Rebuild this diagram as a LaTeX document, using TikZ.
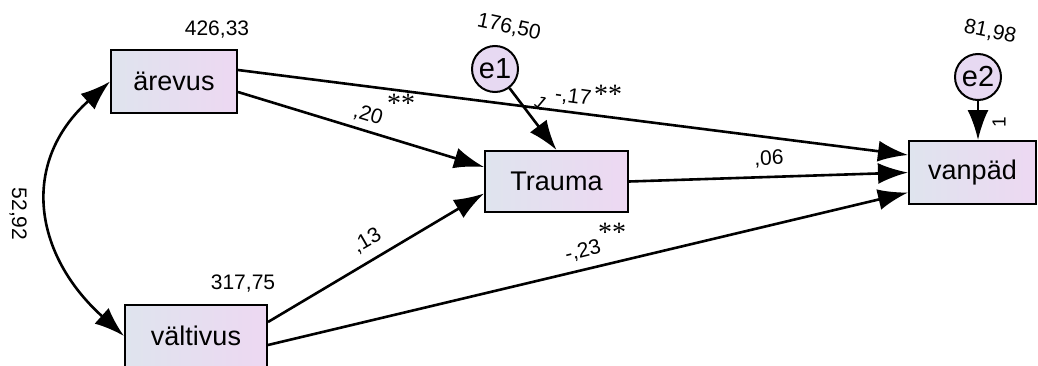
\documentclass[tikz,border=0pt]{standalone}
\usepackage{fontspec}
\setmainfont{Liberation Sans}
\newfontfamily\astfont{Liberation Serif}
\usetikzlibrary{arrows.meta,calc}
\definecolor{boxL}{HTML}{DFE4EE}
\definecolor{boxR}{HTML}{EDD8F2}
\definecolor{circ}{HTML}{E7D9F2}
\tikzset{
  varbox/.style={draw,line width=2pt,left color=boxL,right color=boxR,
    font=\fontsize{27}{32}\selectfont,inner sep=0pt},
  errc/.style={draw,circle,line width=2pt,fill=circ,minimum size=46pt,inner sep=0pt,
    font=\fontsize{29}{34}\selectfont},
  path/.style={line width=2.6pt,-{Latex[length=30pt,width=21pt]}},
  cov/.style={line width=2.6pt,{Latex[length=30pt,width=21pt]}-{Latex[length=30pt,width=21pt]}},
  vlab/.style={font=\fontsize{21}{24}\selectfont,inner sep=0pt},
  plab/.style={font=\fontsize{21}{24}\selectfont,inner sep=0pt},
  one/.style={font=\fontsize{19}{21}\selectfont,inner sep=0pt},
  ast/.style={font=\astfont\fontsize{28}{30}\selectfont,inner sep=0pt}
}
\begin{document}
\begin{tikzpicture}[x=1pt,y=1pt]
\clip (0,0) rectangle (1038,365);
\fill[white] (0,0) rectangle (1038,365);
% nodes
\node[varbox,minimum width=126pt,minimum height=63pt] (ar) at (174,283.5) {ärevus};
\node[varbox,minimum width=143pt,minimum height=61pt] (tr) at (556.5,183.5) {Trauma};
\node[varbox,minimum width=127pt,minimum height=63pt] (van) at (972.5,192.5) {vanpäd};
\node[varbox,minimum width=142pt,minimum height=63pt] (vt) at (196,29) {vältivus};
\node[errc] (e1) at (495,296) {e1};
\node[errc] (e2) at (978,288) {e2};
% variance labels
\node[vlab] (l1) at (217,335) {426,33};
\node[vlab] (l2) at (243,81) {317,75};
\node[vlab,rotate=-12] (l3) at (509,338) {176,50};
\node[vlab,rotate=-12] (l4) at (990,333) {81,98};
\node[vlab,rotate=-90] (l5) at (18,151) {52,92};
% connectors
\draw[path] ($(ar.east)+(0,11.5)$) -- ($(van.west)+(0,17.5)$);
\draw[path] ($(ar.east)+(0,-10.5)$) -- ($(tr.west)+(0,14.5)$);
\draw[path] (tr.east) -- (van.west);
\draw[path] ($(vt.east)+(0,14)$) -- ($(tr.west)+(0,-12)$);
\draw[path] ($(vt.east)+(0,-9)$) -- ($(van.west)+(0,-20)$);
\draw[path] (e1) -- (tr.north);
\draw[path] (e2) -- (e2 |- van.north);
\draw[cov] (ar.west) to[out=222,in=138,looseness=1.22] (vt.west);
% path labels
\node[plab,rotate=-17] (p1) at (368,250) {,20};
\node[ast] (a1) at (401,262) {**};
\node[plab,rotate=-8] (p2) at (573,268) {-,17};
\node[ast] (a2) at (608,271) {**};
\node[plab,rotate=2] (p3) at (769,206) {,06};
\node[plab,rotate=30] (p4) at (367,124) {,13};
\node[plab,rotate=14] (p5) at (583,114) {-,23};
\node[ast] (a3) at (612,133) {**};
\node[one,rotate=-40] (o1) at (541,262) {1};
\node[one,rotate=90] (o2) at (999,243) {1};
\end{tikzpicture}
\end{document}
